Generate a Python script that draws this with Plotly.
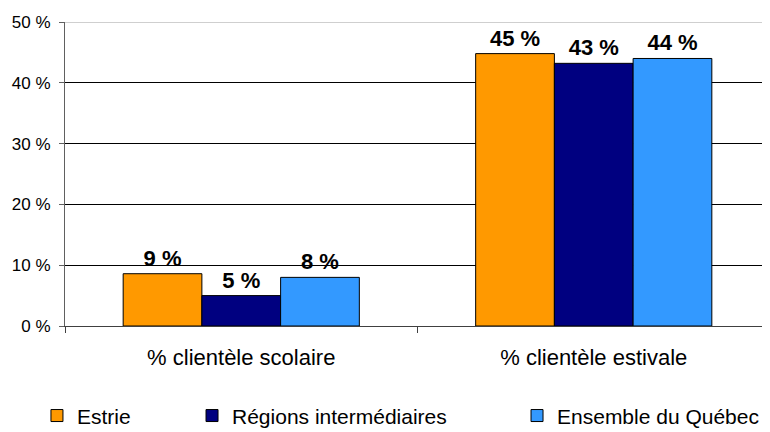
import plotly.graph_objects as go

# clientèle scolaire / estivale, share of visitors (%)
categories = ['% clientèle scolaire', '% clientèle estivale']
estrie = [8.6, 44.8]
regions = [5.0, 43.2]
quebec = [8.0, 44.0]

series = [
    ('Estrie', estrie, '#FF9900', 'legend'),
    ('Régions intermédiaires', regions, '#000080', 'legend2'),
    ('Ensemble du Québec', quebec, '#3399FF', 'legend3'),
]

font = 'Arial, Liberation Sans, sans-serif'

fig = go.Figure()
for name, vals, color, leg in series:
    fig.add_trace(go.Bar(
        x=categories, y=vals, name=name, legend=leg, showlegend=True,
        marker=dict(color=color, line=dict(color='black', width=1)),
        texttemplate='<b>%{y:.0f} %</b>', textposition='outside',
        textfont=dict(size=22, color='black', family=font),
        cliponaxis=False,
    ))

# one legend per series so each entry sits where the original put it
leg_common = dict(orientation='h', xref='container', yref='container',
                  yanchor='middle', y=0.038, xanchor='left',
                  font=dict(size=21, color='black', family=font),
                  bgcolor='rgba(0,0,0,0)')

# page body adds an 8px margin, so the figure is 8px smaller each way
fig.update_layout(
    width=762, height=424,
    margin=dict(l=57, r=0, t=14, b=106),
    paper_bgcolor='white', plot_bgcolor='white',
    font=dict(family=font, color='black'),
    showlegend=True,
    barmode='group', bargap=0.33, bargroupgap=0,
    legend=dict(x=0.038, **leg_common),
    legend2=dict(x=0.2415, **leg_common),
    legend3=dict(x=0.668, **leg_common),
    xaxis=dict(
        showline=True, linecolor='#404040', linewidth=1,
        ticks='outside', tickson='boundaries', ticklen=6, tickcolor='#404040',
        tickfont=dict(size=22), ticklabelstandoff=12,
        range=[-0.5, 1.5],
    ),
    yaxis=dict(
        range=[0, 50], dtick=10, ticksuffix=' %',
        showgrid=True, gridcolor='black', gridwidth=1,
        showline=True, linecolor='#606060', linewidth=1,
        ticks='outside', ticklen=5, tickcolor='#606060',
        tickfont=dict(size=17), ticklabelstandoff=5, zeroline=False,
    ),
    shapes=[dict(type='line', xref='paper', yref='y', x0=0, x1=1, y0=50, y1=50,
                 line=dict(color='#a0a0a0', width=1))],
)

fig.write_html('out.html')
